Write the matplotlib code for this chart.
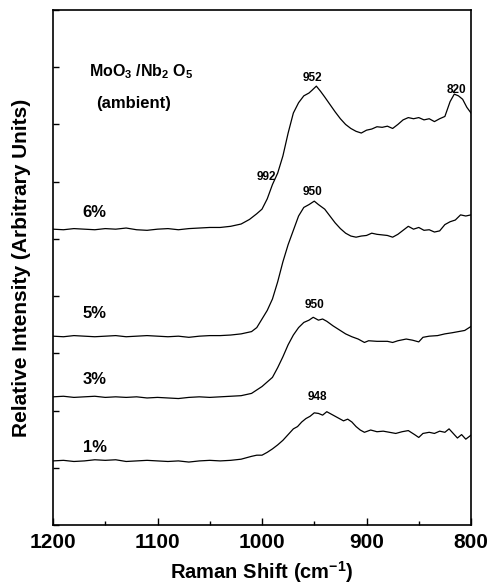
import numpy as np
import matplotlib
matplotlib.use("Agg")
import matplotlib.pyplot as plt
from matplotlib.ticker import MultipleLocator

plt.rcParams['font.family'] = ['Liberation Sans', 'DejaVu Sans']
plt.rcParams['font.weight'] = 'bold'
plt.rcParams['mathtext.fontset'] = 'custom'
plt.rcParams['mathtext.rm'] = 'Liberation Sans:bold'
plt.rcParams['mathtext.it'] = 'Liberation Sans:bold'
plt.rcParams['mathtext.bf'] = 'Liberation Sans:bold'

# baseline region shared by all spectra (cm-1)
base_w = [1200, 1190, 1180, 1170, 1160, 1150, 1140, 1130, 1120, 1110, 1100,
          1090, 1080, 1070, 1060, 1050, 1040, 1030]

# 6 %
w6 = base_w + [1020, 1012, 1005, 1000, 995, 990, 985, 980, 975, 970, 965, 960,
               955, 952, 948, 944, 940, 935, 930, 925, 920, 915, 910, 905, 900,
               895, 890, 885, 880, 875, 870, 865, 860, 855, 850, 845, 840, 835,
               830, 825, 820, 816, 812, 808, 804, 800]
i6 = [5.17, 5.16, 5.18, 5.17, 5.16, 5.18, 5.17, 5.19, 5.16, 5.15, 5.17,
      5.18, 5.16, 5.18, 5.19, 5.20, 5.20, 5.22,
      5.26, 5.34, 5.44, 5.52, 5.70, 5.95, 6.15, 6.45, 6.85, 7.20, 7.38, 7.50,
      7.55, 7.60, 7.67, 7.58, 7.48, 7.35, 7.22, 7.10, 7.00, 6.93, 6.88, 6.85, 6.90,
      6.92, 6.96, 6.95, 6.97, 6.93, 7.00, 7.08, 7.12, 7.10, 7.12, 7.08, 7.10, 7.05,
      7.10, 7.14, 7.40, 7.53, 7.50, 7.44, 7.30, 7.20]

# 5 %
w5 = base_w + [1020, 1010, 1005, 1000, 995, 990, 985, 980, 975, 970, 965, 960,
               955, 950, 946, 940, 935, 930, 925, 920, 915, 910, 905, 900, 895,
               890, 885, 880, 875, 870, 865, 860, 855, 850, 845, 840, 835, 830,
               825, 820, 815, 810, 805, 800]
i5 = [3.30, 3.29, 3.31, 3.30, 3.29, 3.30, 3.31, 3.29, 3.30, 3.31, 3.30,
      3.29, 3.30, 3.28, 3.30, 3.31, 3.31, 3.32,
      3.34, 3.38, 3.45, 3.60, 3.75, 3.95, 4.25, 4.60, 4.90, 5.15, 5.40, 5.55,
      5.60, 5.66, 5.60, 5.52, 5.40, 5.28, 5.18, 5.10, 5.05, 5.03, 5.05, 5.06, 5.10,
      5.08, 5.07, 5.06, 5.03, 5.08, 5.15, 5.22, 5.17, 5.20, 5.15, 5.16, 5.12, 5.14,
      5.25, 5.30, 5.33, 5.42, 5.40, 5.42]

# 3 %
w3 = base_w + [1020, 1010, 1000, 995, 990, 985, 980, 975, 970, 965, 960, 955,
               951, 946, 942, 938, 932, 926, 920, 914, 908, 902, 898, 890, 880,
               875, 870, 862, 856, 850, 846, 840, 832, 825, 818, 812, 806, 800]
i3 = [2.24, 2.25, 2.23, 2.24, 2.25, 2.23, 2.24, 2.23, 2.24, 2.22, 2.23,
      2.22, 2.21, 2.23, 2.24, 2.23, 2.24, 2.25,
      2.26, 2.30, 2.42, 2.50, 2.58, 2.75, 2.94, 3.15, 3.32, 3.45, 3.54, 3.58,
      3.63, 3.58, 3.60, 3.56, 3.48, 3.41, 3.34, 3.29, 3.25, 3.19, 3.22, 3.21, 3.21,
      3.19, 3.22, 3.25, 3.23, 3.20, 3.28, 3.30, 3.31, 3.34, 3.36, 3.38, 3.40, 3.47]

# 1 %
w1 = base_w + [1020, 1010, 1005, 1000, 995, 990, 985, 980, 975, 970, 966, 962,
               958, 954, 950, 946, 942, 938, 934, 930, 926, 922, 918, 914, 910,
               906, 902, 896, 890, 884, 878, 872, 866, 860, 854, 850, 846, 840,
               835, 830, 825, 821, 817, 813, 809, 805, 800]
i1 = [1.12, 1.13, 1.11, 1.12, 1.14, 1.13, 1.14, 1.11, 1.12, 1.13, 1.12,
      1.11, 1.12, 1.10, 1.12, 1.13, 1.12, 1.13,
      1.15, 1.20, 1.22, 1.22, 1.27, 1.33, 1.40, 1.48, 1.58, 1.68, 1.72, 1.80,
      1.86, 1.90, 1.96, 1.95, 1.92, 1.98, 1.94, 1.90, 1.86, 1.82, 1.85, 1.80, 1.72,
      1.66, 1.62, 1.66, 1.63, 1.64, 1.62, 1.60, 1.63, 1.65, 1.58, 1.53, 1.60, 1.62,
      1.60, 1.64, 1.62, 1.68, 1.60, 1.52, 1.58, 1.50, 1.57]

series = [(w6, i6), (w5, i5), (w3, i3), (w1, i1)]
loadings = ['6%', '5%', '3%', '1%']
label_y = [5.47, 3.69, 2.55, 1.35]

# peak annotations: (text, wavenumber, y)
peaks = [('952', 952, 7.81), ('820', 814, 7.6), ('992', 996, 6.08),
         ('950', 952, 5.82), ('950', 950, 3.85), ('948', 947, 2.24)]

fig = plt.figure(figsize=(4.89, 5.86), dpi=100)
ax = fig.add_axes([0.1084, 0.1041, 0.8548, 0.8788])

for w, i in series:
    ax.plot(w, i, color='black', lw=0.9)

for lab, y in zip(loadings, label_y):
    ax.text(1160, y, lab, fontsize=12, fontweight='bold', ha='center', va='center')

for t, w, y in peaks:
    ax.text(w, y, t, fontsize=8.5, fontweight='bold', ha='center', va='center')

ax.text(1166, 7.92, r'MoO$_3$ /Nb$_2$ O$_5$', fontsize=11.5, fontweight='bold',
        ha='left', va='center')
ax.text(1159, 7.36, '(ambient)', fontsize=12, fontweight='bold',
        ha='left', va='center')

ax.set_xlim(1200, 800)
ax.set_ylim(0, 9)
ax.xaxis.set_major_locator(MultipleLocator(100))
ax.xaxis.set_minor_locator(MultipleLocator(50))
ax.yaxis.set_major_locator(MultipleLocator(1))
ax.tick_params(axis='both', which='both', direction='in', top=False, right=False,
               width=1.0)
ax.tick_params(axis='x', which='major', length=5, labelsize=15, pad=6)
ax.tick_params(axis='x', which='minor', length=3)
ax.tick_params(axis='y', length=4, labelleft=False)
for lbl in ax.get_xticklabels():
    lbl.set_fontweight('bold')
for s in ax.spines.values():
    s.set_linewidth(1.2)

ax.set_xlabel('Raman Shift (cm$^{-1}$)', fontsize=14.5, fontweight='bold', labelpad=5)
ax.set_ylabel('Relative Intensity (Arbitrary Units)', fontsize=15,
              fontweight='bold', labelpad=16)

fig.savefig('out.png', dpi=100)
